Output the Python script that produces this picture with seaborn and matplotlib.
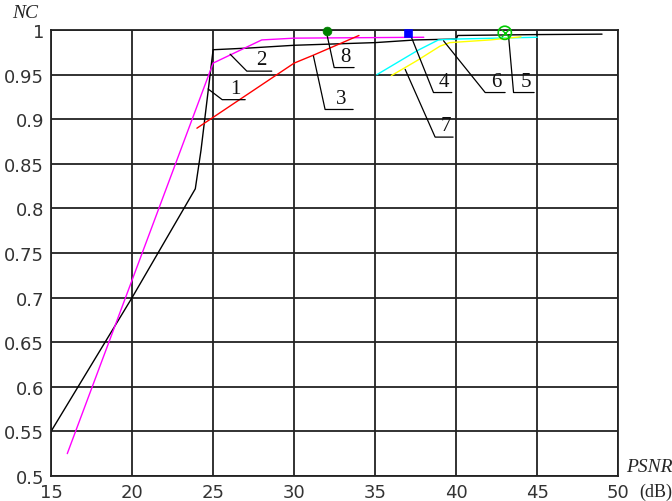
import pandas as pd
import matplotlib
matplotlib.use("Agg")
import matplotlib.pyplot as plt
import seaborn as sns

# curve data (PSNR in dB, NC)
psnr_1 = [15, 20, 23.9, 24.25, 25, 27.3, 30, 35, 37.5, 40, 40.1, 45, 49]
nc_1 = [0.55, 0.70, 0.822, 0.865, 0.978, 0.980, 0.983, 0.986, 0.989, 0.990, 0.994, 0.995, 0.9955]
psnr_2 = [16, 25, 28, 30, 38]
nc_2 = [0.525, 0.963, 0.989, 0.991, 0.992]
psnr_3 = [24, 30, 31.2, 34]
nc_3 = [0.89, 0.963, 0.972, 0.994]
psnr_6 = [35.1, 37.6, 38.9, 40, 45]
nc_6 = [0.950, 0.977, 0.989, 0.990, 0.992]
psnr_7 = [36, 37.6, 39, 39.6, 42.1, 44]
nc_7 = [0.949, 0.966, 0.982, 0.986, 0.989, 0.9925]

# single-point results
point_labels = ["8", "4", "5"]
point_psnr = [32, 37, 43]
point_nc = [0.999, 0.997, 0.997]

x_ticks = [15, 20, 25, 30, 35, 40, 45, 50]
y_ticks = [0.5, 0.55, 0.6, 0.65, 0.7, 0.75, 0.8, 0.85, 0.9, 0.95, 1.0]
y_tick_labels = ["0.5", "0.55", "0.6", "0.65", "0.7", "0.75", "0.8", "0.85", "0.9", "0.95", "1"]

# leader lines for the curve numbers: (label, start, elbow, end x)
leaders = [
    ("1", (24.69, 0.934), (25.56, 0.922), 26.98),
    ("2", (26.05, 0.973), (27.08, 0.954), 28.62),
    ("3", (31.19, 0.971), (31.91, 0.911), 33.64),
    ("8", (32.02, 0.9955), (32.47, 0.958), 33.70),
    ("4", (37.16, 0.9955), (38.60, 0.930), 39.73),
    ("6", (39.22, 0.988), (41.79, 0.930), 43.02),
    ("5", (43.23, 0.9936), (43.54, 0.930), 44.81),
    ("7", (36.85, 0.956), (38.70, 0.880), 39.81),
]

curves = pd.concat([
    pd.DataFrame({"psnr": psnr_1, "nc": nc_1, "curve": "1"}),
    pd.DataFrame({"psnr": psnr_2, "nc": nc_2, "curve": "2"}),
    pd.DataFrame({"psnr": psnr_3, "nc": nc_3, "curve": "3"}),
    pd.DataFrame({"psnr": psnr_6, "nc": nc_6, "curve": "6"}),
    pd.DataFrame({"psnr": psnr_7, "nc": nc_7, "curve": "7"}),
], ignore_index=True)
palette = {"1": "black", "2": "#ff00ff", "3": "#ff0000", "6": "#00ffff", "7": "#ffff00"}

sns.set_style("white")
fig = plt.figure(figsize=(6.72, 5.02), dpi=100)
ax = fig.add_axes([0.076, 0.05, 0.844, 0.888])

sns.lineplot(data=curves, x="psnr", y="nc", hue="curve", palette=palette,
             estimator=None, sort=False, linewidth=1.0, legend=False, ax=ax)

pts = pd.DataFrame({"psnr": point_psnr, "nc": point_nc, "label": point_labels})
sns.scatterplot(data=pts[pts.label == "8"], x="psnr", y="nc", color="#008000",
                s=40, edgecolor="#008000", ax=ax, zorder=5, clip_on=False)
sns.scatterplot(data=pts[pts.label == "4"], x="psnr", y="nc", color="#0000ff",
                marker="s", s=35, edgecolor="#0000ff", ax=ax, zorder=5, clip_on=False)
p5 = pts[pts.label == "5"]
ax.scatter(p5.psnr, p5.nc, s=90, facecolors="none", edgecolors="#00cc00",
           linewidths=1.2, zorder=5, clip_on=False)
ax.scatter(p5.psnr, p5.nc, s=30, marker="x", color="#00cc00", linewidths=1.0,
           zorder=5, clip_on=False)

for lab, (x0, y0), (x1, y1), x2 in leaders:
    ax.plot([x0, x1, x2], [y0, y1, y1], color="black", lw=0.9, zorder=4)
    ax.text((x1 + x2) / 2 + 0.1, y1 + 0.002, lab, ha="center", va="bottom",
            fontsize=15, family="Liberation Serif", color="#111111")

ax.set_xlim(15, 50)
ax.set_ylim(0.5, 1.0)
ax.set_xticks(x_ticks)
ax.set_yticks(y_ticks)
ax.set_yticklabels(y_tick_labels)
ax.grid(True, color="#222222", linewidth=1.3)
ax.tick_params(axis="both", length=0, labelsize=13, labelcolor="#333333", pad=5)
for s in ax.spines.values():
    s.set_color("#222222")
    s.set_linewidth(1.3)
ax.set_xlabel("")
ax.set_ylabel("")

fig.text(0.018, 0.974, "NC", fontsize=14, style="italic", family="Liberation Serif",
         va="center", ha="left")
fig.text(0.931, 0.069, "PSNR", fontsize=14, style="italic", family="Liberation Serif",
         va="center", ha="left")
fig.text(0.952, 0.02, "(dB)", fontsize=13, family="Liberation Serif", va="center", ha="left")

fig.savefig("out.png", dpi=100)
